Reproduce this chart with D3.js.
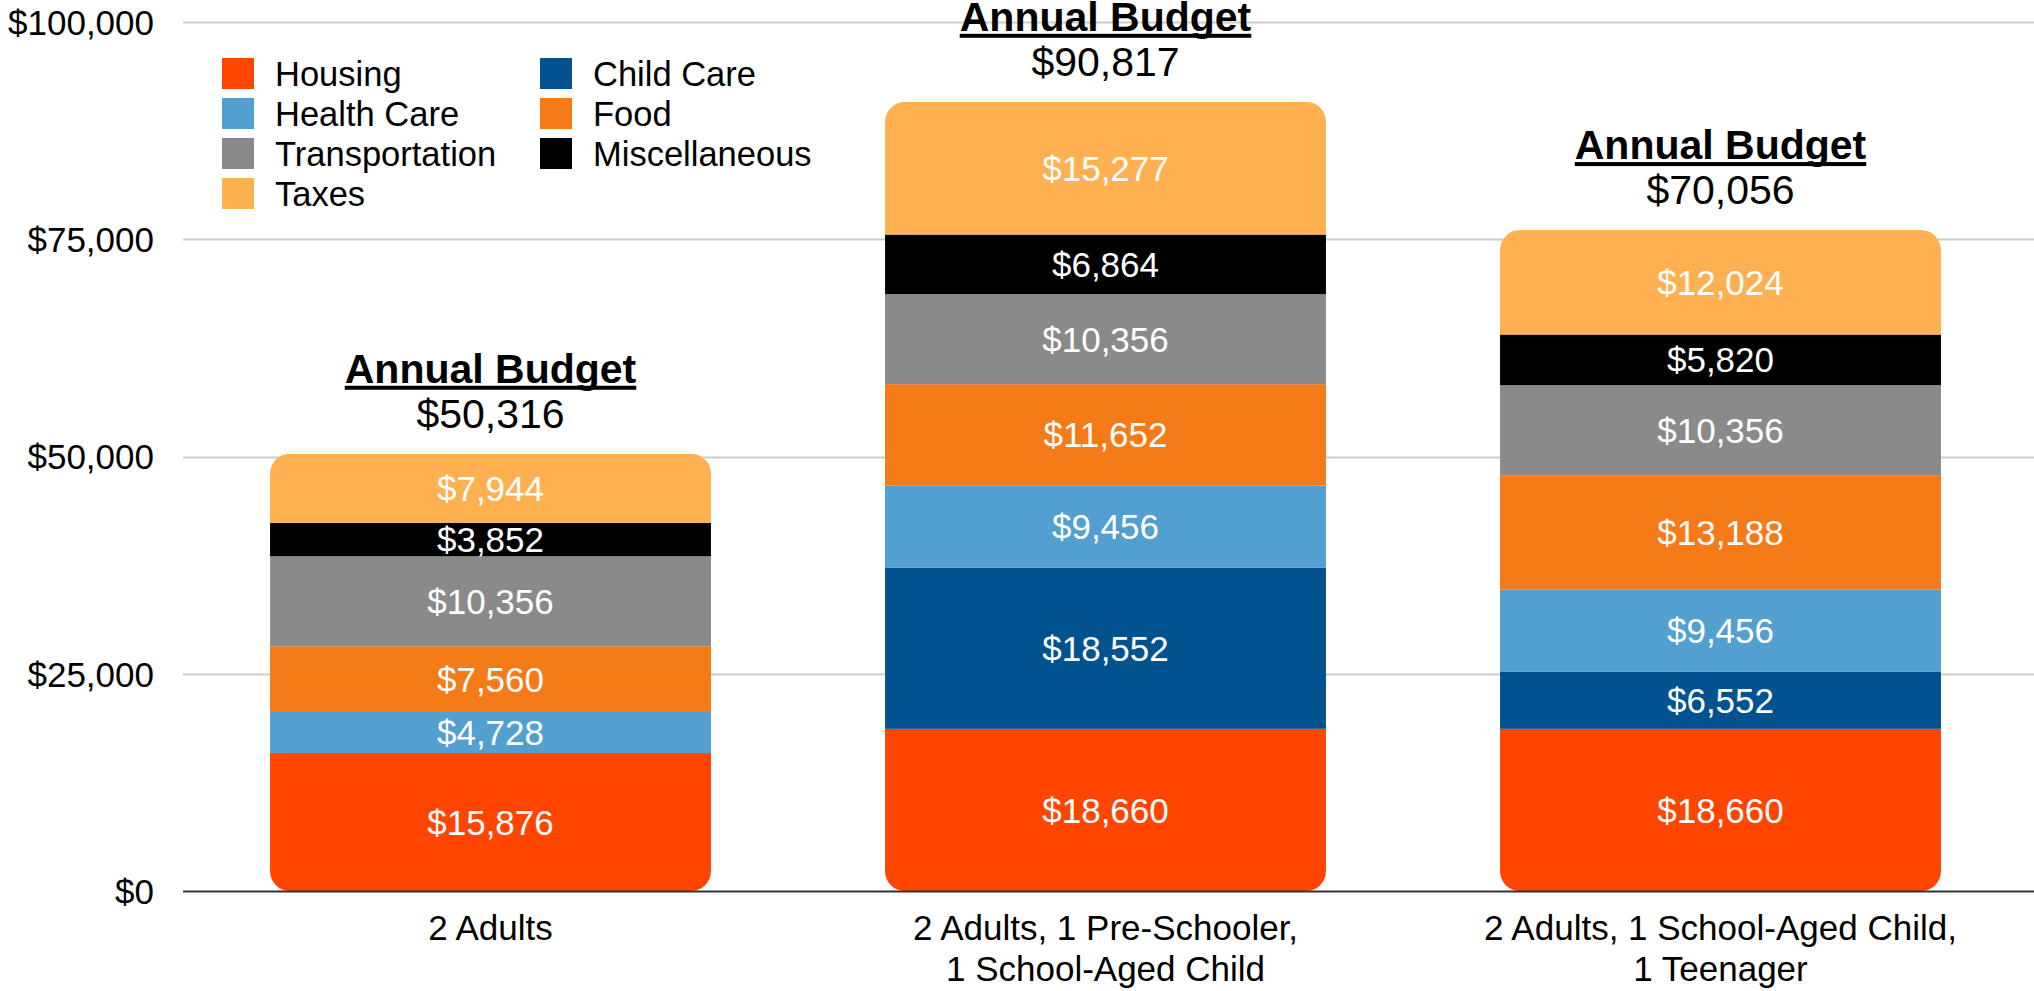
<!DOCTYPE html>
<html>
<head>
<meta charset="utf-8">
<script src="https://cdn.jsdelivr.net/npm/d3@7"></script>
<style>
  html, body { margin: 0; padding: 0; background: #fff; }
  svg { display: block; font-family: "Liberation Sans", Arial, sans-serif; }
</style>
</head>
<body>
<svg id="chart" width="2034" height="991"></svg>
<script>
// ---- Data ----
const categories = ["2 Adults", "2 Adults, 1 Pre-Schooler, 1 School-Aged Child", "2 Adults, 1 School-Aged Child, 1 Teenager"];
const categoryLines = [["2 Adults"], ["2 Adults, 1 Pre-Schooler,", "1 School-Aged Child"], ["2 Adults, 1 School-Aged Child,", "1 Teenager"]];
const seriesNames = ["Housing", "Child Care", "Health Care", "Food", "Transportation", "Miscellaneous", "Taxes"];
const housing = [15876, 18660, 18660];
const childCare = [0, 18552, 6552];
const healthCare = [4728, 9456, 9456];
const food = [7560, 11652, 13188];
const transportation = [10356, 10356, 10356];
const miscellaneous = [3852, 6864, 5820];
const taxes = [7944, 15277, 12024];
const budgetTotals = [50316, 90817, 70056];
const yTicks = [0, 25000, 50000, 75000, 100000];
const seriesColors = ["#FF4500", "#02528F", "#529FD0", "#F57A18", "#8A8A8A", "#000000", "#FFB152"];

// ---- Build table ----
const seriesValues = [housing, childCare, healthCare, food, transportation, miscellaneous, taxes];
const table = categories.map((c, i) => {
  const row = { category: c, index: i };
  seriesNames.forEach((s, k) => row[s] = seriesValues[k][i]);
  return row;
});
const stacked = d3.stack().keys(seriesNames)(table);

const svg = d3.select("#chart");
const W = 2034, H = 991;
const y = d3.scaleLinear().domain([0, 100000]).range([891, 22]);
const x = d3.scaleBand().domain(categories).range([183, 2028]).paddingInner(0.283).paddingOuter(0.1415);
const color = d3.scaleOrdinal().domain(seriesNames).range(seriesColors);
const fmt = d3.format("$,");

// gridlines
svg.append("g").selectAll("line").data(yTicks.filter(t => t > 0)).join("line")
  .attr("x1", 183).attr("x2", W)
  .attr("y1", d => Math.round(y(d)) + 0.5).attr("y2", d => Math.round(y(d)) + 0.5)
  .attr("stroke", "#cccccc").attr("stroke-width", 2);

// y axis labels
const yAxis = d3.axisLeft(y).tickValues(yTicks).tickFormat(fmt).tickSize(0).tickPadding(0);
const gy = svg.append("g").attr("transform", "translate(154,0)").call(yAxis);
gy.select(".domain").remove();
gy.selectAll("text").attr("font-size", 35).attr("fill", "#000").attr("font-family", "Liberation Sans, Arial, sans-serif").attr("dy", "0.35em");

// bars with clip
const defs = svg.append("defs");
categories.forEach((c, i) => {
  const top = stacked[stacked.length - 1][i][1];
  defs.append("clipPath").attr("id", "clip" + i)
    .append("rect")
    .attr("x", x(c)).attr("width", x.bandwidth())
    .attr("y", y(top)).attr("height", y(0) - y(top))
    .attr("rx", 20).attr("ry", 20);
});

const barsG = svg.append("g");
categories.forEach((c, i) => {
  const g = barsG.append("g").attr("clip-path", `url(#clip${i})`);
  stacked.forEach(layer => {
    const d = layer[i];
    if (d[1] - d[0] <= 0) return;
    g.append("rect")
      .attr("x", x(c)).attr("width", x.bandwidth())
      .attr("y", y(d[1])).attr("height", y(d[0]) - y(d[1]))
      .attr("fill", color(layer.key));
  });
});

// data labels
stacked.forEach(layer => {
  layer.forEach((d, i) => {
    const v = d[1] - d[0];
    if (v <= 0) return;
    svg.append("text")
      .attr("x", x(categories[i]) + x.bandwidth() / 2)
      .attr("y", (y(d[0]) + y(d[1])) / 2)
      .attr("dy", "0.36em")
      .attr("text-anchor", "middle")
      .attr("font-size", 35)
      .attr("fill", "#ffffff")
      .text(fmt(v));
  });
});

// x axis baseline
svg.append("line").attr("x1", 183).attr("x2", W)
  .attr("y1", y(0) + 0.5).attr("y2", y(0) + 0.5)
  .attr("stroke", "#333").attr("stroke-width", 2);

// x axis labels
categories.forEach((c, i) => {
  const t = svg.append("text")
    .attr("x", x(c) + x.bandwidth() / 2)
    .attr("y", 940)
    .attr("text-anchor", "middle")
    .attr("font-size", 35)
    .attr("fill", "#000");
  categoryLines[i].forEach((ln, k) => {
    t.append("tspan").attr("x", x(c) + x.bandwidth() / 2).attr("y", 940 + k * 41).text(ln);
  });
});

// annual budget labels
categories.forEach((c, i) => {
  const top = y(stacked[stacked.length - 1][i][1]);
  const cx = x(c) + x.bandwidth() / 2;
  const t = svg.append("text")
    .attr("x", cx).attr("y", top - 71)
    .attr("text-anchor", "middle")
    .attr("font-size", 41).attr("font-weight", "bold").attr("fill", "#000")
    .text("Annual Budget");
  const w = t.node().getComputedTextLength();
  svg.append("rect").attr("x", cx - w / 2).attr("y", top - 71 + 3).attr("width", w).attr("height", 4).attr("fill", "#000");
  svg.append("text")
    .attr("x", cx).attr("y", top - 26)
    .attr("text-anchor", "middle")
    .attr("font-size", 41).attr("fill", "#000")
    .text(fmt(budgetTotals[i]));
});

// legend
const legend = svg.append("g");
seriesNames.forEach((s, i) => {
  const col = i % 2, row = Math.floor(i / 2);
  const lx = 222 + col * 318, ly = 58 + row * 40;
  legend.append("rect").attr("x", lx).attr("y", ly).attr("width", 32).attr("height", 31).attr("fill", color(s));
  legend.append("text").attr("x", lx + 53).attr("y", ly + 28).attr("font-size", 34.5).attr("fill", "#000").text(s);
});
</script>
</body>
</html>
